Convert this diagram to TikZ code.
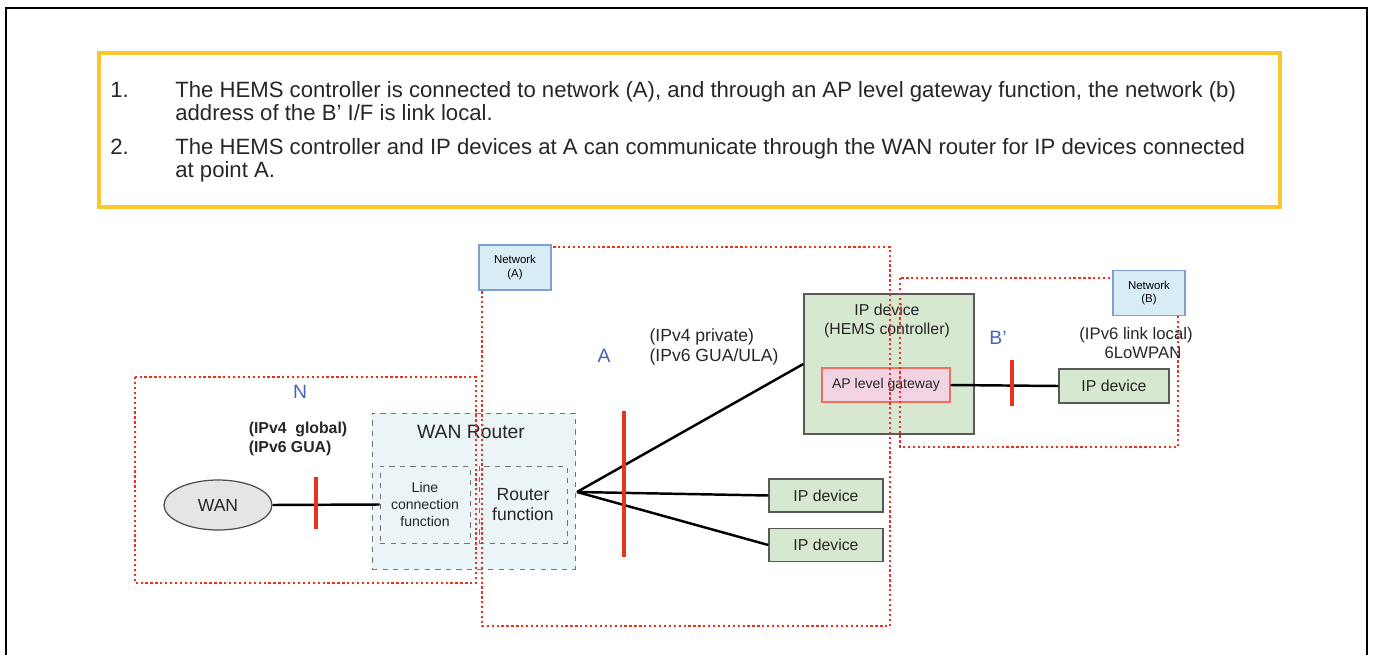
\documentclass[tikz,border=0pt]{standalone}
\usepackage{fontspec}
\setmainfont{Liberation Sans}
\usepackage{xcolor}
\usepackage{tikz}
\usetikzlibrary{shapes.geometric}
\definecolor{NoteYellow}{HTML}{FCC72C}
\definecolor{DevGreen}{HTML}{D6E8CF}
\definecolor{RouterBlue}{HTML}{EBF4F7}
\definecolor{NetBlue}{HTML}{D8ECF5}
\definecolor{NetEdge}{HTML}{7E9FD6}
\definecolor{GwPink}{HTML}{F2D3E4}
\definecolor{PtBlue}{HTML}{4A62BC}
\definecolor{CutRed}{HTML}{E8321E}

\begin{document}
\begin{tikzpicture}[x=0.02cm,y=-0.02cm,
    netbox/.style={draw=CutRed,line width=1.5pt,dash pattern=on 1.3pt off 1.5pt},
    devbox/.style={draw=black!65,fill=DevGreen,line width=0.8pt,inner sep=0pt},
    fnbox/.style={draw=black!55,dashed,fill=RouterBlue,line width=0.5pt,inner sep=0pt,align=center},
    netlabel/.style={draw=NetEdge,fill=NetBlue,line width=0.7pt,inner sep=0pt,align=center,
        font=\fontsize{6.5}{7.5}\selectfont,minimum width=1.44cm,minimum height=0.9cm},
    link/.style={line width=1.4pt},
    cut/.style={CutRed,line width=1.8pt},
    pt/.style={PtBlue,font=\fontsize{11}{12}\selectfont},
    note/.style={anchor=base west,font=\fontsize{12.6}{13}\selectfont,inner sep=0pt,text=black!85}]
    \useasboundingbox (0,0) rectangle (1373,655);
    \draw[line width=0.6pt] (6,670) -- (6,8) -- (1367,8) -- (1367,670);

    \draw[NoteYellow,line width=1.8pt] (99,53) rectangle (1280,207);
    \node[note] (n1) at (110,98) {1.};
    \node[note] (t1) at (175,98) {The HEMS controller is connected to network (A), and through an AP level gateway function, the network (b)};
    \node[note] (t1b) at (175,121) {address of the B’ I/F is link local.};
    \node[note] (n2) at (110,155) {2.};
    \node[note] (t2) at (175,155) {The HEMS controller and IP devices at A can communicate through the WAN router for IP devices connected};
    \node[note] (t2b) at (175,178) {at point A.};

    \begin{scope}[text=black!85]
    \node[ellipse,draw=black!70,fill=black!10,line width=0.7pt,minimum width=2.16cm,minimum height=1cm,
        font=\fontsize{10}{11}\selectfont] (wan) at (218,505) {WAN};
    \node[fnbox,minimum width=4.06cm,minimum height=3.12cm] (router) at (473.5,491) {};
    \node[font=\fontsize{11}{12}\selectfont] (routername) at (471,432) {WAN Router};
    \node[fnbox,minimum width=1.8cm,minimum height=1.54cm,font=\fontsize{8}{9.5}\selectfont] (linefn) at (425,504.5) {Line\\connection\\function};
    \node[fnbox,minimum width=1.76cm,minimum height=1.54cm,font=\fontsize{10}{11.5}\selectfont] (routerfn) at (523,504.5) {Router\\function};

    \node[devbox,minimum width=3.4cm,minimum height=2.8cm] (hems) at (889,364) {};
    \node[align=center,font=\fontsize{9}{10.5}\selectfont] (hemsname) at (887,321) {IP device\\(HEMS controller)};
    \node[draw=CutRed!70,fill=GwPink,line width=0.7pt,minimum width=2.56cm,minimum height=0.68cm,inner sep=0pt,
        font=\fontsize{8}{9}\selectfont] (apgw) at (886,385) {AP level gateway};
    \node[devbox,minimum width=2.2cm,minimum height=0.68cm,font=\fontsize{9}{10}\selectfont] (devb) at (1114,386) {IP device};
    \node[devbox,minimum width=2.28cm,minimum height=0.66cm,font=\fontsize{9}{10}\selectfont] (dev1) at (826,495.5) {IP device};
    \node[devbox,minimum width=2.28cm,minimum height=0.66cm,font=\fontsize{9}{10}\selectfont] (dev2) at (826,545) {IP device};
    \end{scope}

    \coordinate (fan) at (577,492);
    \draw[link] (wan.east) -- (linefn.west);
    \draw[link] (fan) -- (hems.west);
    \draw[link] (fan) -- (dev1.west);
    \draw[link] (fan) -- (dev2.west);
    \draw[link] (apgw.east) -- (devb.west);

    \draw[cut] (316,477) -- (316,529);
    \draw[cut] (624,411) -- (624,557);
    \draw[cut] (1012,360) -- (1012,406);

    \draw[netbox] (135,377) rectangle (476,583);
    \draw[netbox] (482,247) rectangle (890,626);
    \draw[netbox] (900,278) rectangle (1178,447);
    \node[netlabel] (neta) at (515,267.5) {Network\\(A)};
    \node[netlabel] (netb) at (1149,293) {Network\\(B)};

    \node[pt] (ptn) at (300,392) {N};
    \node[pt] (pta) at (604,356) {A};
    \node[pt] (ptb) at (998,338) {B’};

    \begin{scope}[text=black!85]
    \node[align=left,font=\bfseries\fontsize{9}{10.5}\selectfont] (addrn) at (298,439) {(IPv4\ \ global)\\(IPv6 GUA)};
    \node[align=left,font=\fontsize{10}{11}\selectfont] (addra) at (714,347) {(IPv4 private)\\(IPv6 GUA/ULA)};
    \node[align=center,font=\fontsize{9.5}{10.5}\selectfont] (addrb) at (1136,343) {(IPv6 link local)\\\ \ \ 6LoWPAN};
    \end{scope}
\end{tikzpicture}
\end{document}
